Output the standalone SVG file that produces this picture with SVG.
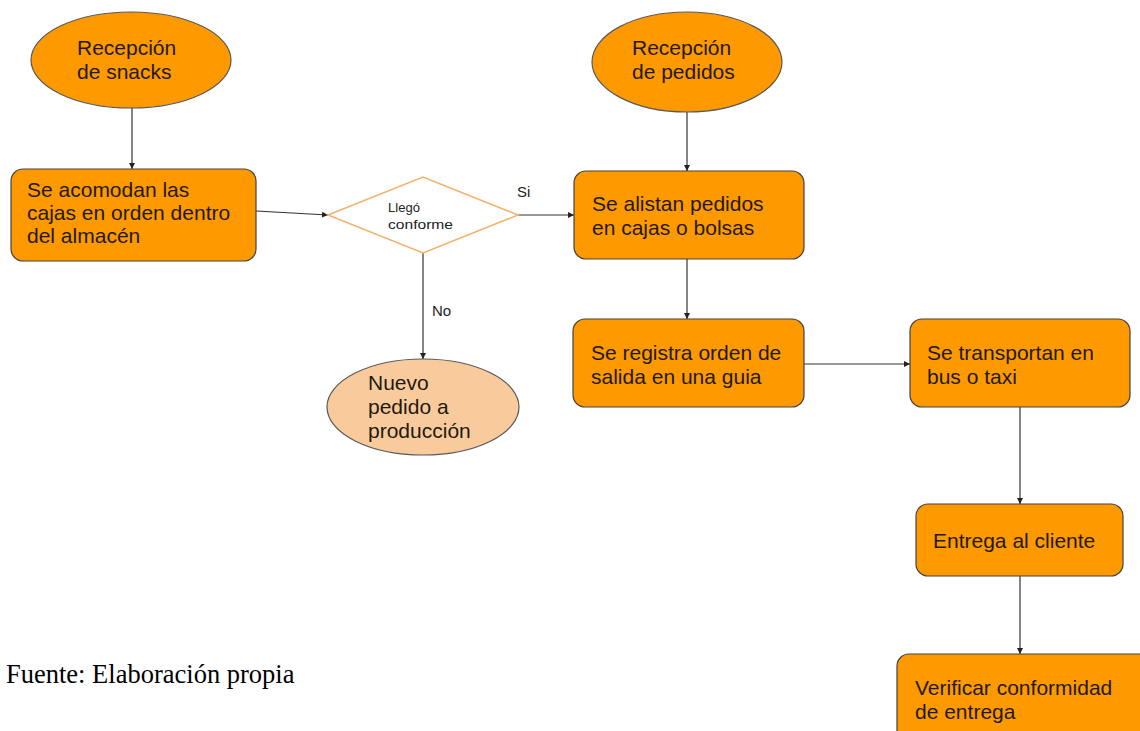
<svg xmlns="http://www.w3.org/2000/svg" width="1140" height="731" viewBox="0 0 1140 731">
<defs>
<style>
.box{fill:#ff9900;stroke:#434343;stroke-width:1.2}
.term{fill:#ff9900;stroke:#595959;stroke-width:1.2}
.light{fill:#f9cb9c;stroke:#595959;stroke-width:1.2}
.dec{fill:#ffffff;stroke:#f6b26b;stroke-width:1.6}
.t{font-family:"Liberation Sans",Arial,sans-serif;font-size:21px;fill:#1f1a10}
.s{font-family:"Liberation Sans",Arial,sans-serif;font-size:12.5px;fill:#222}
.lbl{font-family:"Liberation Sans",Arial,sans-serif;font-size:15px;fill:#222}
.cap{font-family:"Liberation Serif","Times New Roman",serif;font-size:26.5px;fill:#000}
.c{fill:none;stroke:#333;stroke-width:1.2;marker-end:url(#ah)}
</style>
<marker id="ah" viewBox="0 0 10 10" refX="10" refY="5" markerWidth="6" markerHeight="6" markerUnits="userSpaceOnUse" orient="auto">
<path d="M0,0 L10,5 L0,10 z" fill="#222"/>
</marker>
</defs>
<rect width="1140" height="731" fill="#ffffff"/>
<g id="connectors">
<line class="c" x1="132" y1="108" x2="132" y2="169"/>
<line class="c" x1="256" y1="211" x2="328" y2="215"/>
<line class="c" x1="518" y1="215" x2="574" y2="215"/>
<line class="c" x1="687" y1="112" x2="687" y2="171"/>
<line class="c" x1="687" y1="259" x2="687" y2="319"/>
<line class="c" x1="423" y1="253" x2="423" y2="359"/>
<line class="c" x1="804" y1="364" x2="910" y2="364"/>
<line class="c" x1="1020" y1="407" x2="1020" y2="504"/>
<line class="c" x1="1020" y1="576" x2="1020" y2="654"/>
<text class="lbl" x="517" y="197">Si</text>
<text class="lbl" x="432" y="316">No</text>
</g>
<g id="n_recepcion_snacks">
<ellipse class="term" cx="131" cy="60" rx="100" ry="48"/>
<text class="t" x="77" y="55">Recepción</text>
<text class="t" x="77" y="79">de snacks</text>
</g>
<g id="n_acomodan">
<rect class="box" x="11" y="169" width="245" height="92" rx="12"/>
<text class="t" x="27" y="197">Se acomodan las</text>
<text class="t" x="27" y="220">cajas en orden dentro</text>
<text class="t" x="27" y="243">del almacén</text>
</g>
<g id="n_llego">
<polygon class="dec" points="328,215 423,177 518,215 423,253"/>
<text class="s" x="388" y="212" textLength="32" lengthAdjust="spacingAndGlyphs">Llegó</text>
<text class="s" x="388" y="229" textLength="65" lengthAdjust="spacingAndGlyphs">conforme</text>
</g>
<g id="n_nuevo_pedido">
<ellipse class="light" cx="423" cy="407" rx="96" ry="48"/>
<text class="t" x="368" y="390">Nuevo</text>
<text class="t" x="368" y="414">pedido a</text>
<text class="t" x="368" y="438">producción</text>
</g>
<g id="n_recepcion_pedidos">
<ellipse class="term" cx="687" cy="62" rx="95" ry="50"/>
<text class="t" x="632" y="55">Recepción</text>
<text class="t" x="632" y="79">de pedidos</text>
</g>
<g id="n_alistan">
<rect class="box" x="574" y="171" width="230" height="88" rx="12"/>
<text class="t" x="592" y="211">Se alistan pedidos</text>
<text class="t" x="592" y="235">en cajas o bolsas</text>
</g>
<g id="n_registra">
<rect class="box" x="573" y="319" width="231" height="88" rx="12"/>
<text class="t" x="591" y="360">Se registra orden de</text>
<text class="t" x="591" y="384">salida en una guia</text>
</g>
<g id="n_transportan">
<rect class="box" x="910" y="319" width="220" height="88" rx="12"/>
<text class="t" x="927" y="360">Se transportan en</text>
<text class="t" x="927" y="384">bus o taxi</text>
</g>
<g id="n_entrega">
<rect class="box" x="916" y="504" width="207" height="72" rx="12"/>
<text class="t" x="933" y="548">Entrega al cliente</text>
</g>
<g id="n_verificar">
<rect class="box" x="897" y="654" width="260" height="100" rx="12"/>
<text class="t" x="915" y="695">Verificar conformidad</text>
<text class="t" x="915" y="719">de entrega</text>
</g>
<text class="cap" x="6" y="683">Fuente: Elaboración propia</text>
</svg>
